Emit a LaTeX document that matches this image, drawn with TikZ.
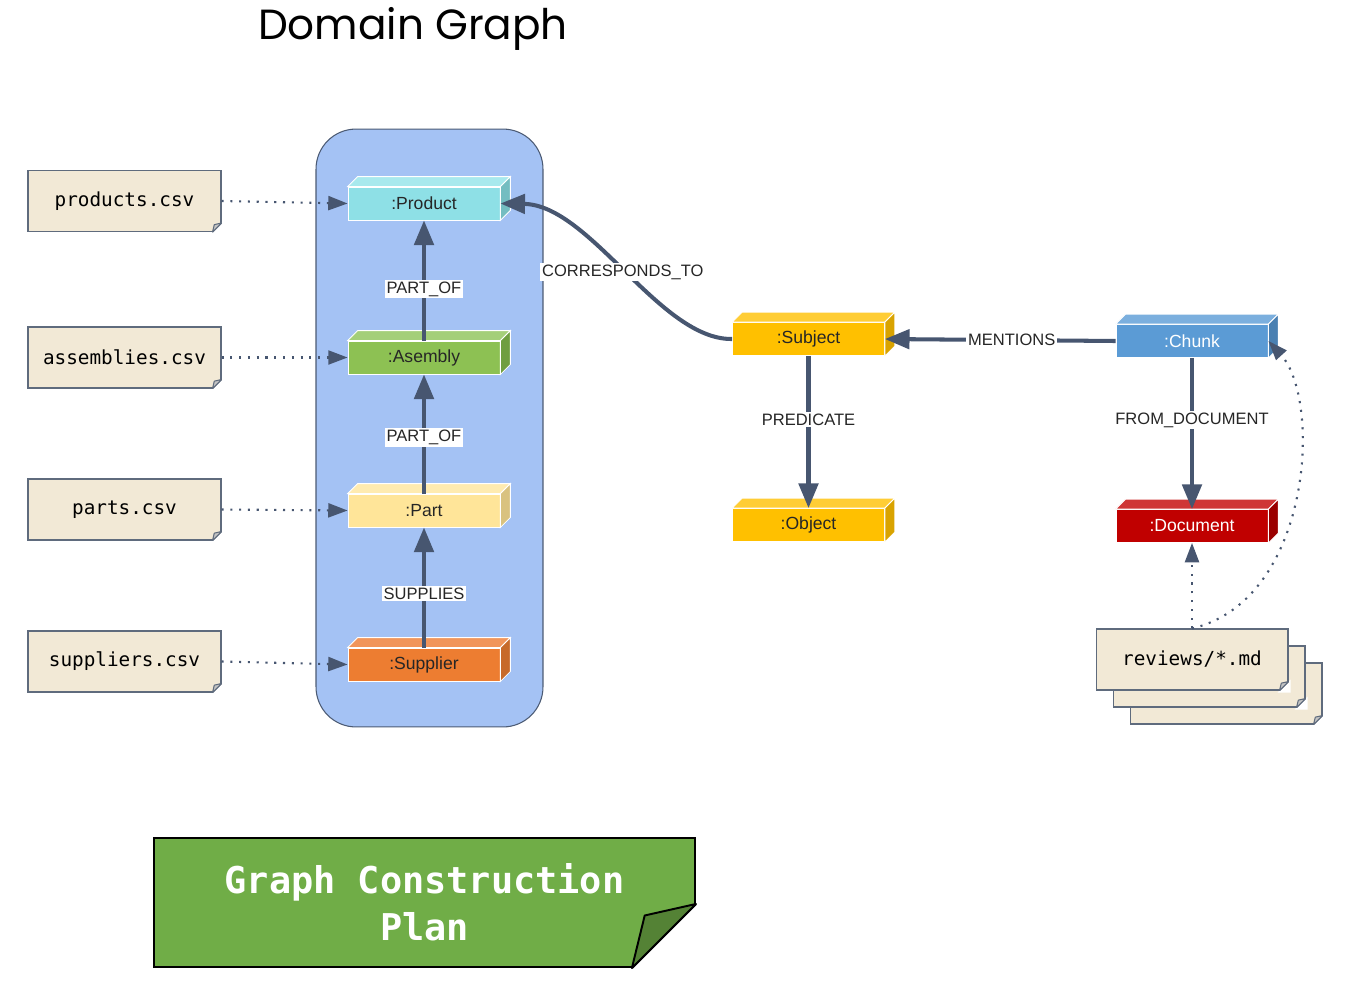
\documentclass[tikz,border=0pt]{standalone}
\usepackage{fontspec}
\setmainfont{Liberation Sans}
\setmonofont{DejaVu Sans Mono}
\newfontfamily\titlefont{Poppins}
\usetikzlibrary{arrows.meta}

\definecolor{edgeclr}{HTML}{475670}
\definecolor{boxedge}{HTML}{4B5A73}
\definecolor{domainbg}{HTML}{A4C2F4}
\definecolor{notebg}{HTML}{F2E9D6}
\definecolor{noteedge}{HTML}{5F6B7D}
\definecolor{foldclr}{HTML}{C4C4C4}
\definecolor{planbg}{HTML}{70AD47}
\definecolor{planfold}{HTML}{548235}
\definecolor{prodclr}{HTML}{8EE0E6}  \definecolor{prodtop}{HTML}{A8E9ED}  \definecolor{prodside}{HTML}{74BDC1}
\definecolor{asmclr}{HTML}{8DC153}   \definecolor{asmtop}{HTML}{A4CF79}   \definecolor{asmside}{HTML}{6F9E40}
\definecolor{partclr}{HTML}{FFE599}  \definecolor{parttop}{HTML}{FFEBB0}  \definecolor{partside}{HTML}{D9C27F}
\definecolor{suppclr}{HTML}{ED7D31}  \definecolor{supptop}{HTML}{F1955A}  \definecolor{suppside}{HTML}{C76A2A}
\definecolor{subjclr}{HTML}{FFC000}  \definecolor{subjtop}{HTML}{FFCD35}  \definecolor{subjside}{HTML}{D9A300}
\definecolor{chunkclr}{HTML}{5B9BD5} \definecolor{chunktop}{HTML}{7BAFDE} \definecolor{chunkside}{HTML}{4A80B2}
\definecolor{docclr}{HTML}{C00000}   \definecolor{doctop}{HTML}{CF3636}   \definecolor{docside}{HTML}{9A0000}

% top and side faces of a box node
\newcommand{\cubefaces}[3]{%
  \filldraw[draw=white, line width=0.5pt, fill=#2] (#1.north west) -- ([shift={(10,-10)}]#1.north west)
      -- ([shift={(10,-10)}]#1.north east) -- (#1.north east) -- cycle;
  \filldraw[draw=white, line width=0.5pt, fill=#3] (#1.north east) -- ([shift={(10,-10)}]#1.north east)
      -- ([shift={(10,-10)}]#1.south east) -- (#1.south east) -- cycle;
}
% folded corner of a note node: name, size, fold colour, edge colour, line width
\newcommand{\notefold}[5]{%
  \fill[white] ([shift={(2,-#2-2)}]#1.south east) -- ([shift={(2,2)}]#1.south east)
      -- ([shift={(-#2-2,2)}]#1.south east) -- cycle;
  \draw[draw=#4, line width=#5, line join=round] ([shift={(0,-#2)}]#1.south east) -- ([shift={(-#2,0)}]#1.south east);
  \filldraw[draw=#4, fill=#3, line width=#5, line join=round] ([shift={(0,-#2)}]#1.south east)
      -- ([shift={(-0.8*#2,-0.82*#2)}]#1.south east) -- ([shift={(-#2,0)}]#1.south east) -- cycle;
}

\begin{document}
\begin{tikzpicture}[x=0.02cm, y=-0.02cm]
    \tikzstyle{every node}=[align=center]
    \tikzstyle{cube}=[draw=white, line width=0.5pt, minimum width=3.04cm, minimum height=0.66cm, inner sep=0pt, text=black!85]
    \tikzstyle{note}=[draw=noteedge, line width=0.6pt, fill=notebg, minimum width=3.86cm, minimum height=1.22cm, font=\ttfamily\fontsize{11}{13}\selectfont]
    \tikzstyle{rel}=[draw=edgeclr, line width=2.3pt, -{Triangle[length=14pt,width=11pt]}]
    \tikzstyle{feed}=[draw=edgeclr, line width=1.2pt, dash pattern=on 1.2pt off 3.8pt, -{Triangle[length=11pt,width=8pt]}]
    \tikzstyle{lbl}=[fill=white, inner sep=1pt, font=\fontsize{9.4}{11}\selectfont, text=black!85]

    \useasboundingbox (0,0) rectangle (1356,1001);

    \node[font=\titlefont\fontsize{24}{28}\selectfont] (title) at (413,29) {Domain Graph};

    \node[draw=boxedge, line width=0.6pt, fill=domainbg, rounded corners=0.8cm,
          minimum width=4.54cm, minimum height=11.96cm] (domain) at (429.5,428) {};

    % source files
    \node[note] (prodfile) at (124.5,201) {products.csv};
    \notefold{prodfile}{9}{foldclr}{noteedge}{0.6pt}
    \node[note] (asmfile) at (124.5,357.5) {assemblies.csv};
    \notefold{asmfile}{9}{foldclr}{noteedge}{0.6pt}
    \node[note] (partfile) at (124.5,509.5) {parts.csv};
    \notefold{partfile}{9}{foldclr}{noteedge}{0.6pt}
    \node[note] (suppfile) at (124.5,661.5) {suppliers.csv};
    \notefold{suppfile}{9}{foldclr}{noteedge}{0.6pt}

    \node[note, minimum width=3.84cm] (rev3) at (1226,693.5) {};
    \notefold{rev3}{9}{foldclr}{noteedge}{0.6pt}
    \node[note, minimum width=3.84cm] (rev2) at (1209,676.5) {};
    \notefold{rev2}{9}{foldclr}{noteedge}{0.6pt}
    \node[note, minimum width=3.84cm] (rev) at (1192,659.5) {reviews/*.md};
    \notefold{rev}{9}{foldclr}{noteedge}{0.6pt}

    % domain entities
    \node[cube, fill=prodclr] (product) at (424,203.5) {:Product};
    \cubefaces{product}{prodtop}{prodside}
    \node[cube, fill=asmclr] (assembly) at (424,357.5) {:Asembly};
    \cubefaces{assembly}{asmtop}{asmside}
    \node[cube, fill=partclr] (part) at (424,510.5) {:Part};
    \cubefaces{part}{parttop}{partside}
    \node[cube, fill=suppclr] (supplier) at (424,664.5) {:Supplier};
    \cubefaces{supplier}{supptop}{suppside}

    % lexical entities
    \node[cube, fill=subjclr] (subject) at (808.5,339) {:Subject};
    \cubefaces{subject}{subjtop}{subjside}
    \node[cube, fill=subjclr] (object) at (808.5,525) {:Object};
    \cubefaces{object}{subjtop}{subjside}
    \node[cube, fill=chunkclr, text=white] (chunk) at (1192,341) {:Chunk};
    \cubefaces{chunk}{chunktop}{chunkside}
    \node[cube, fill=docclr, text=white] (document) at (1192,526) {:Document};
    \cubefaces{document}{doctop}{docside}

    % loading
    \draw[feed] (prodfile.east) -- (product.west);
    \draw[feed] (asmfile.east) -- (assembly.west);
    \draw[feed] (partfile.east) -- (part.west);
    \draw[feed] (suppfile.east) -- (supplier.west);
    \draw[feed] (rev.north) -- (document.south);
    \draw[feed] (rev.north) .. controls (1312,600) and (1322,400) .. (chunk.east);

    % relationships
    \draw[rel] (assembly.north) -- node[lbl, pos=.43] (partof1) {PART\_OF} (product.south);
    \draw[rel] (part.north) -- node[lbl, pos=.47] (partof2) {PART\_OF} (assembly.south);
    \draw[rel] (supplier.north) -- node[lbl, pos=.45] (supplies) {SUPPLIES} (part.south);
    \draw[rel] (subject.west) .. controls (660,340) and (590,205) .. node[lbl, pos=.5] (corresp) {CORRESPONDS\_TO} (product.east);
    \draw[rel] (chunk.west) -- node[lbl, pos=.45] (mentions) {MENTIONS} (subject.east);
    \draw[rel] (subject.south) -- node[lbl, pos=.42] (predicate) {PREDICATE} (object.north);
    \draw[rel] (chunk.south) -- node[lbl, pos=.41] (fromdoc) {FROM\_DOCUMENT} (document.north);

    % plan banner
    \node[draw=black, line width=1.1pt, fill=planbg, minimum width=10.82cm, minimum height=2.58cm,
          text=white, font=\ttfamily\bfseries\fontsize{21}{26.5}\selectfont] (plan) at (424.5,902.5)
          {Graph Construction\\Plan};
    \notefold{plan}{64}{planfold}{black}{1.1pt}
\end{tikzpicture}
\end{document}
